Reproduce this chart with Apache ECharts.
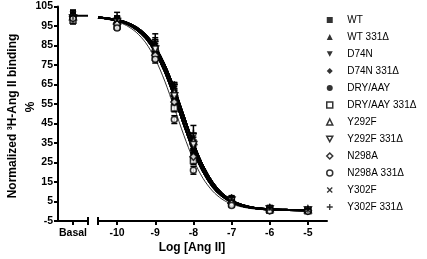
<!DOCTYPE html>
<html>
<head>
<meta charset="utf-8">
<script src="https://cdn.jsdelivr.net/npm/echarts@6/dist/echarts.min.js"></script>
<style>
  html, body { margin: 0; padding: 0; background: #fff; }
  #chart { width: 427px; height: 259px; }
</style>
</head>
<body>
<div id="chart"></div>
<script>
// ---- data ----
const seriesNames = ['WT', 'WT 331Δ', 'D74N', 'D74N 331Δ', 'DRY/AAY', 'DRY/AAY 331Δ',
  'Y292F', 'Y292F 331Δ', 'N298A', 'N298A 331Δ', 'Y302F', 'Y302F 331Δ'];

const doseX = [-10, -9, -8.5, -8, -7, -6, -5];

const basalValues = [100, 101, 99, 100, 101, 98, 100, 99, 100, 99, 101, 100];
const basalErrors = [3, 2, 2, 1.5, 2, 2, 2, 1, 2, 2, 2, 2];

const doseValues = [
  [98, 83, 60, 30, 5, 1, 0.5],
  [97, 85, 62, 33, 6, 1.5, 0.8],
  [96, 82, 58, 32, 4, 0.5, 0.3],
  [99, 86, 63, 35, 5, 1, 0.6],
  [97, 81, 57, 29, 4.5, 0.8, 0.5],
  [95, 79, 53, 26, 4, 0.5, 0.2],
  [98, 84, 61, 36, 6, 1.5, 1],
  [97, 83, 59, 34, 5.5, 1, 0.5],
  [96, 80, 56, 28, 4, 0.5, 0.3],
  [94, 78, 47, 21, 3, 0.3, 0],
  [98, 86, 64, 38, 6.5, 1.5, 0.8],
  [99, 87, 65, 40, 7, 2, 1]
];
const doseErrors = [
  [2, 2, 2, 3, 1, 0.5, 0.5],
  [3, 3, 3, 2, 1, 0.5, 0.5],
  [2, 2, 2, 2, 1, 0.5, 0.5],
  [1, 2, 2, 3, 1, 0.5, 0.5],
  [2, 2, 2, 2, 1, 0.5, 0.5],
  [1, 2, 2, 2, 1, 0.5, 0.5],
  [2, 2, 2, 4, 1, 1, 0.5],
  [2, 2, 2, 2, 1, 0.5, 0.5],
  [2, 2, 2, 2, 1, 0.5, 0.5],
  [1, 2, 2, 2, 1, 0.5, 0.5],
  [2, 3, 2, 2, 1, 1, 0.5],
  [3, 4, 1, 4, 1, 1, 0.5]
];

// fitted curves, read at these x positions
const curveX = [-10.5, -10.25, -10, -9.75, -9.5, -9.25, -9, -8.75, -8.5, -8.25, -8,
  -7.75, -7.5, -7.25, -7, -6.75, -6.5, -6.25, -6, -5.5, -5];
const curveMid = [99.3, 98.8, 97.8, 96.2, 93.4, 88.9, 81.8, 71.7, 58.8, 44.5, 31.2,
  20.5, 12.8, 7.8, 4.8, 2.9, 1.9, 1.3, 0.9, 0.6, 0.5];
const curveRight = [99.4, 98.9, 98.1, 96.7, 94.3, 90.4, 84.1, 74.8, 62.6, 48.5, 34.7,
  23.2, 14.7, 9.0, 5.5, 3.4, 2.1, 1.4, 1.0, 0.7, 0.5];
const curveLeft = [99.1, 98.4, 97.3, 95.2, 91.8, 86.4, 78.1, 66.7, 53.0, 38.9, 26.4,
  16.9, 10.4, 6.2, 3.7, 2.3, 1.4, 0.9, 0.7, 0.4, 0.3];
const curveOfSeries = [curveMid, curveRight, curveMid, curveRight, curveMid, curveMid,
  curveRight, curveRight, curveMid, curveLeft, curveRight, curveRight];
const basalPlateau = 100.3;

const yTicks = [-5, 5, 15, 25, 35, 45, 55, 65, 75, 85, 95, 105];
const xTicks = [-10, -9, -8, -7, -6, -5];
const basalTick = [0.5];

// ---- styling ----
const FONT = '"Liberation Sans", Arial, sans-serif';
const TRI_DOWN = 'path://M0,0L10,0L5,9Z';
const CROSS = 'path://M0,1.5L1.5,0L5,3.5L8.5,0L10,1.5L6.5,5L10,8.5L8.5,10L5,6.5L1.5,10L0,8.5L3.5,5Z';
const PLUS = 'path://M3.9,0H6.1V3.9H10V6.1H6.1V10H3.9V6.1H0V3.9H3.9Z';

const markers = [
  { symbol: 'rect', open: false, size: 6 },
  { symbol: 'triangle', open: false, size: 7 },
  { symbol: TRI_DOWN, open: false, size: 7 },
  { symbol: 'diamond', open: false, size: 6 },
  { symbol: 'circle', open: false, size: 6 },
  { symbol: 'rect', open: true, size: 6 },
  { symbol: 'triangle', open: true, size: 7 },
  { symbol: TRI_DOWN, open: true, size: 7 },
  { symbol: 'diamond', open: true, size: 7 },
  { symbol: 'circle', open: true, size: 6 },
  { symbol: CROSS, open: false, size: 7 },
  { symbol: PLUS, open: false, size: 7 }
];

function markerStyle(m) {
  return m.open
    ? { color: '#fff', borderColor: '#000', borderWidth: 1.5 }
    : { color: '#000', borderWidth: 0 };
}

function errorBarItem(params, api) {
  const x = api.value(0);
  const top = api.coord([x, api.value(2)]);
  const bot = api.coord([x, api.value(1)]);
  const w = 3;
  const style = { stroke: '#000', lineWidth: 1.5 };
  return {
    type: 'group',
    children: [
      { type: 'line', shape: { x1: top[0], y1: top[1], x2: bot[0], y2: bot[1] }, style: style },
      { type: 'line', shape: { x1: top[0] - w, y1: top[1], x2: top[0] + w, y2: top[1] }, style: style },
      { type: 'line', shape: { x1: bot[0] - w, y1: bot[1], x2: bot[0] + w, y2: bot[1] }, style: style }
    ]
  };
}

const axisLineStyle = { color: '#000', width: 2 };
const tickLabel = { color: '#000', fontFamily: FONT, fontWeight: 'bold', fontSize: 10.5 };

const series = [];

// fitted curves
seriesNames.forEach((name, i) => {
  series.push({
    name: 'fit ' + name,
    type: 'line',
    xAxisIndex: 1, yAxisIndex: 1,
    data: curveX.map((x, j) => [x, curveOfSeries[i][j]]),
    smooth: 0.3,
    showSymbol: false,
    symbol: 'none',
    lineStyle: { color: '#000', width: i === 9 ? 0.8 : 2 },
    z: 1,
    silent: true
  });
});
// plateau line across the basal segment
series.push({
  name: 'fit basal',
  type: 'line',
  xAxisIndex: 0, yAxisIndex: 0,
  data: [[basalTick[0], basalPlateau], [1, basalPlateau]],
  showSymbol: false,
  symbol: 'none',
  lineStyle: { color: '#000', width: 2 },
  z: 1
});

// error bars
const doseBars = [];
const basalBars = [];
seriesNames.forEach((name, i) => {
  basalBars.push([basalTick[0], basalValues[i] - basalErrors[i], basalValues[i] + basalErrors[i]]);
  doseX.forEach((x, j) => {
    doseBars.push([x, doseValues[i][j] - doseErrors[i][j], doseValues[i][j] + doseErrors[i][j]]);
  });
});
series.push({
  name: 'err dose', type: 'custom', xAxisIndex: 1, yAxisIndex: 1,
  renderItem: errorBarItem, data: doseBars, encode: { x: 0, y: [1, 2] }, z: 2
});
series.push({
  name: 'err basal', type: 'custom', xAxisIndex: 0, yAxisIndex: 0,
  renderItem: errorBarItem, data: basalBars, encode: { x: 0, y: [1, 2] }, z: 2
});

// points
seriesNames.forEach((name, i) => {
  const m = markers[i];
  series.push({
    name: name,
    type: 'scatter',
    xAxisIndex: 1, yAxisIndex: 1,
    data: doseX.map((x, j) => [x, doseValues[i][j]]),
    symbol: m.symbol,
    symbolSize: m.size,
    itemStyle: markerStyle(m),
    z: 3
  });
  series.push({
    name: 'basal ' + name,
    type: 'scatter',
    xAxisIndex: 0, yAxisIndex: 0,
    data: [[basalTick[0], basalValues[i]]],
    symbol: m.symbol,
    symbolSize: m.size,
    itemStyle: markerStyle(m),
    z: 3
  });
});

const chart = echarts.init(document.getElementById('chart'));
chart.setOption({
  animation: false,
  backgroundColor: '#fff',
  grid: [
    { left: 58, top: 6.5, width: 30, height: 214.5, containLabel: false, outerBoundsMode: 'none' },
    { left: 98, top: 6.5, width: 229, height: 214.5, containLabel: false, outerBoundsMode: 'none' }
  ],
  xAxis: [
    {
      gridIndex: 0, type: 'value', min: 0, max: 1,
      axisLine: { onZero: false, lineStyle: axisLineStyle, symbol: ['none', 'rect'], symbolSize: [8, 2] },
      axisTick: { customValues: basalTick, length: 4, lineStyle: { color: '#000', width: 2 } },
      axisLabel: Object.assign({ customValues: basalTick, formatter: () => 'Basal', margin: 7 }, tickLabel),
      splitLine: { show: false }
    },
    {
      gridIndex: 1, type: 'value', min: -10.5, max: -4.5,
      axisLine: { onZero: false, lineStyle: axisLineStyle, symbol: ['rect', 'none'], symbolSize: [8, 2] },
      axisTick: { customValues: xTicks, length: 4, lineStyle: { color: '#000', width: 2 } },
      axisLabel: Object.assign({ customValues: xTicks, margin: 7 }, tickLabel),
      splitLine: { show: false }
    }
  ],
  yAxis: [
    {
      gridIndex: 0, type: 'value', min: -5, max: 105,
      axisLine: { show: true, onZero: false, lineStyle: axisLineStyle },
      axisTick: { show: true, customValues: yTicks, length: 4, lineStyle: { color: '#000', width: 2 } },
      axisLabel: Object.assign({ customValues: yTicks, margin: 5 }, tickLabel),
      splitLine: { show: false }
    },
    { gridIndex: 1, type: 'value', min: -5, max: 105, show: false }
  ],
  legend: {
    orient: 'vertical',
    left: 321, top: 9,
    itemWidth: 6, itemHeight: 6, itemGap: 5,
    selectedMode: false,
    data: seriesNames.map((name, i) => ({
      name: name,
      icon: markers[i].symbol,
      itemStyle: markerStyle(markers[i])
    })),
    textStyle: { color: '#000', fontFamily: FONT, fontSize: 10, lineHeight: 12, padding: [0, 0, 0, 9.5] }
  },
  graphic: [
    {
      type: 'text', x: 13, y: 116, rotation: Math.PI / 2,
      style: { text: 'Normalized ³H-Ang II binding', fill: '#000', font: 'bold 12px ' + FONT, align: 'center', verticalAlign: 'middle' }
    },
    {
      type: 'text', x: 31, y: 107, rotation: Math.PI / 2,
      style: { text: '%', fill: '#000', font: 'bold 12px ' + FONT, align: 'center', verticalAlign: 'middle' }
    },
    {
      type: 'text', x: 192, y: 248,
      style: { text: 'Log [Ang II]', fill: '#000', font: 'bold 12px ' + FONT, align: 'center', verticalAlign: 'middle' }
    }
  ],
  series: series
});
</script>
</body>
</html>
